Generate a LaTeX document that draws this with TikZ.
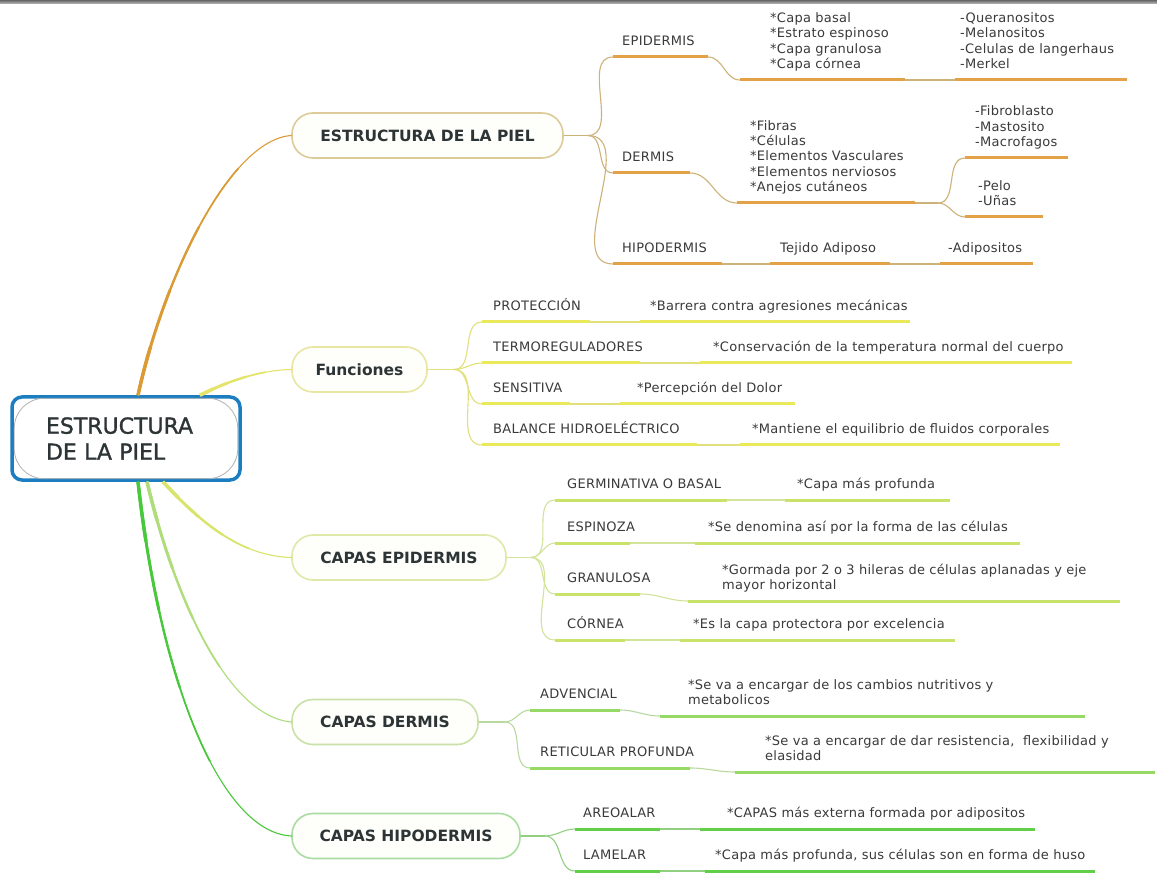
\documentclass[tikz,border=0pt]{standalone}
\usepackage{fontspec}
\setmainfont{DejaVu Sans}
\definecolor{cO}{HTML}{E3A248}
\definecolor{cOt}{HTML}{CDB27A}
\definecolor{cOr}{HTML}{DB9B34}
\definecolor{cObd}{HTML}{DCCB98}
\definecolor{cY}{HTML}{E9E95A}
\definecolor{cYt}{HTML}{E2E07A}
\definecolor{cYr}{HTML}{E4E46A}
\definecolor{cYbd}{HTML}{E8E6A0}
\definecolor{cA}{HTML}{C9E36A}
\definecolor{cAt}{HTML}{D2E39A}
\definecolor{cAr}{HTML}{D8E46A}
\definecolor{cAbd}{HTML}{DFE8A8}
\definecolor{cB}{HTML}{96D964}
\definecolor{cBt}{HTML}{B8D9A0}
\definecolor{cBr}{HTML}{AEDD7A}
\definecolor{cBbd}{HTML}{C9E1A9}
\definecolor{cC}{HTML}{62CF48}
\definecolor{cCt}{HTML}{90D080}
\definecolor{cCr}{HTML}{48C83A}
\definecolor{cCbd}{HTML}{A9DCA0}
\definecolor{rootblue}{HTML}{1C7DC0}
\definecolor{txt}{HTML}{3A3A3A}
\definecolor{ttl}{HTML}{2D3436}
\definecolor{nodefill}{HTML}{FEFEFA}
\newcommand\leaffont{\fontsize{13}{15.3}\selectfont\addfontfeature{LetterSpace=2}}
\newcommand\ml[1]{\begin{tabular}[b]{@{}l@{}}#1\end{tabular}}
\newcommand\tpc[7]{%
  \coordinate (#1s) at (#2,#4);
  \coordinate (#1e) at (#3,#4);
  \draw[ul#6] (#1s) -- (#1e);
  \node[lbl] (#1) at (#5,#4-11.5) {\ml{#7}};
}
\begin{document}
\begin{tikzpicture}[x=1pt,y=-1pt,
  lbl/.style={anchor=base west, inner sep=0pt, font=\leaffont, text=txt},
  ulO/.style={line width=3pt, draw=cO},
  ulY/.style={line width=3pt, draw=cY},
  ulA/.style={line width=3pt, draw=cA},
  ulB/.style={line width=3pt, draw=cB},
  ulC/.style={line width=3pt, draw=cC},
  thO/.style={line width=1.1pt, draw=cOt},
  thY/.style={line width=1.1pt, draw=cYt},
  thA/.style={line width=1.1pt, draw=cAt},
  thB/.style={line width=1.1pt, draw=cBt},
  thC/.style={line width=1.1pt, draw=cCt},
  br/.style={draw, line width=1.6pt, rounded corners=21pt, minimum height=45pt,
    fill=nodefill, font=\bfseries\fontsize{15.5}{18}\selectfont, text=ttl, inner xsep=0pt},
  rootbox/.style={draw=rootblue, line width=3.5pt, rounded corners=10pt, fill=white,
    minimum width=228pt, minimum height=83pt, align=left, text width=160pt, text=ttl,
    font=\fontsize{22}{26}\selectfont\addfontfeature{FakeBold=1.3}},
  taper/.style n args={5}{draw=#1, line width=1.1pt, line cap=round,
    postaction={draw=#1, line width=1.7pt, line cap=butt, dash pattern=on #2 off 3000pt},
    postaction={draw=#1, line width=2.3pt, line cap=butt, dash pattern=on #3 off 3000pt},
    postaction={draw=#1, line width=2.9pt, line cap=butt, dash pattern=on #4 off 3000pt},
    postaction={draw=#1, line width=3.5pt, line cap=butt, dash pattern=on #5 off 3000pt}}
]
\fill[white] (0,0) rectangle (1157,874);
\useasboundingbox (0,0) rectangle (1157,874);
\shade[top color=black!60, bottom color=black!25] (0,0) rectangle (1157,4);

% root and main branches
\node[rootbox] (root) at (126,438.5) {ESTRUCTURA\\DE LA PIEL};
\draw[gray!60, line width=0.8pt, rounded corners=30pt]
  ([shift={(4,3)}]root.north west) rectangle ([shift={(-4,-3)}]root.south east);

\node[br, draw=cObd, minimum width=271pt] (b1) at (427.5,135.5) {ESTRUCTURA DE LA PIEL};
\node[br, draw=cYbd, minimum width=135pt] (b2) at (359.5,369.5) {Funciones};
\node[br, draw=cAbd, minimum width=214pt] (b3) at (399,557.5) {CAPAS EPIDERMIS};
\node[br, draw=cBbd, minimum width=186pt] (b4) at (385,722) {CAPAS DERMIS};
\node[br, draw=cCbd, minimum width=228pt] (b5) at (406,836) {CAPAS HIPODERMIS};

\path[taper={cOr}{250pt}{180pt}{110pt}{50pt}] ([xshift=12pt]root.north) .. controls (163,280) and (229,140) .. (b1.west);
\path[taper={cYr}{70pt}{50pt}{30pt}{14pt}] ([xshift=74pt]root.north) .. controls (230,380) and (262,370) .. (b2.west);
\path[taper={cAr}{110pt}{80pt}{50pt}{22pt}] ([xshift=37pt]root.south) .. controls (200,522) and (240,556) .. (b3.west);
\path[taper={cBr}{200pt}{145pt}{90pt}{40pt}] ([xshift=21pt]root.south) .. controls (175,600) and (228,716) .. (b4.west);
\path[taper={cCr}{290pt}{210pt}{130pt}{60pt}] ([xshift=12pt]root.south) .. controls (160,680) and (220,832) .. (b5.west);

% ---------- ESTRUCTURA DE LA PIEL ----------
\tpc{eA}{613}{708}{57}{622}{O}{EPIDERMIS}
\tpc{eB}{740}{905}{80}{770}{O}{*Capa basal\\{*}Estrato espinoso\\{*}Capa granulosa\\{*}Capa córnea}
\tpc{eC}{955}{1127}{80}{960}{O}{-Queranositos\\-Melanositos\\-Celulas de langerhaus\\-Merkel}
\tpc{dA}{613}{690}{173}{622}{O}{DERMIS}
\tpc{dB}{737}{915}{203}{750}{O}{*Fibras\\{*}Células\\{*}Elementos Vasculares\\{*}Elementos nerviosos\\{*}Anejos cutáneos}
\tpc{dC}{965}{1068}{158}{975}{O}{-Fibroblasto\\-Mastosito\\-Macrofagos}
\tpc{dD}{965}{1043}{217}{978}{O}{-Pelo\\-Uñas}
\tpc{hA}{613}{722}{264}{622}{O}{HIPODERMIS}
\tpc{hB}{770}{890}{264}{780}{O}{Tejido Adiposo}
\tpc{hC}{940}{1033}{264}{948}{O}{-Adipositos}
\coordinate (j1) at ([xshift=24pt]b1.east);
\draw[thO] (b1.east) -- (j1);
\foreach \c in {eA,dA,hA} \draw[thO] (j1) to[out=0,in=180] (\c s);
\draw[thO] (eAe) to[out=0,in=180] (eBs);
\draw[thO] (eBe) -- (eCs);
\draw[thO] (dAe) to[out=0,in=180] (dBs);
\coordinate (jd) at ([xshift=23pt]dBe);
\draw[thO] (dBe) -- (jd);
\draw[thO] (jd) to[out=0,in=180] (dCs);
\draw[thO] (jd) to[out=0,in=180] (dDs);
\draw[thO] (hAe) -- (hBs);
\draw[thO] (hBe) -- (hCs);

% ---------- Funciones ----------
\tpc{pA}{482}{590}{322}{493}{Y}{PROTECCIÓN}
\tpc{pB}{640}{910}{322}{650}{Y}{*Barrera contra agresiones mecánicas}
\tpc{tA}{482}{640}{363}{493}{Y}{TERMOREGULADORES}
\tpc{tB}{700}{1072}{363}{713}{Y}{*Conservación de la temperatura normal del cuerpo}
\tpc{sA}{482}{570}{404}{493}{Y}{SENSITIVA}
\tpc{sB}{620}{795}{404}{637}{Y}{*Percepción del Dolor}
\tpc{bA}{482}{697}{445}{493}{Y}{BALANCE HIDROELÉCTRICO}
\tpc{bB}{740}{1060}{445}{752}{Y}{*Mantiene el equilibrio de fluidos corporales}
\coordinate (j2) at ([xshift=26pt]b2.east);
\draw[thY] (b2.east) -- (j2);
\foreach \c in {pA,tA,sA,bA} \draw[thY] (j2) to[out=0,in=180] (\c s);
\foreach \c in {p,t,s,b} \draw[thY] (\c Ae) -- (\c Bs);

% ---------- CAPAS EPIDERMIS ----------
\tpc{gA}{555}{727}{500}{567}{A}{GERMINATIVA O BASAL}
\tpc{gB}{785}{950}{500}{797}{A}{*Capa más profunda}
\tpc{spA}{555}{630}{543}{567}{A}{ESPINOZA}
\tpc{spB}{695}{1020}{543}{708}{A}{*Se denomina así por la forma de las células}
\tpc{grA}{555}{640}{594}{567}{A}{GRANULOSA}
\tpc{grB}{688}{1120}{601}{722}{A}{*Gormada por 2 o 3 hileras de células aplanadas y eje\\mayor horizontal}
\tpc{cA}{555}{625}{640}{567}{A}{CÓRNEA}
\tpc{cB}{680}{955}{640}{693}{A}{*Es la capa protectora por excelencia}
\coordinate (j3) at ([xshift=24pt]b3.east);
\draw[thA] (b3.east) -- (j3);
\foreach \c in {gA,spA,grA,cA} \draw[thA] (j3) to[out=0,in=180] (\c s);
\foreach \c in {g,sp,gr,c} \draw[thA] (\c Ae) to[out=0,in=180] (\c Bs);

% ---------- CAPAS DERMIS ----------
\tpc{aA}{530}{620}{710}{540}{B}{ADVENCIAL}
\tpc{aB}{660}{1085}{716}{688}{B}{*Se va a encargar de los cambios nutritivos y\\metabolicos}
\tpc{rA}{530}{690}{768}{540}{B}{RETICULAR PROFUNDA}
\tpc{rB}{735}{1155}{772}{765}{B}{*Se va a encargar de dar resistencia,\ \ flexibilidad y\\elasidad}
\coordinate (j4) at ([xshift=26pt]b4.east);
\draw[thB] (b4.east) -- (j4);
\foreach \c in {aA,rA} \draw[thB] (j4) to[out=0,in=180] (\c s);
\foreach \c in {a,r} \draw[thB] (\c Ae) to[out=0,in=180] (\c Bs);

% ---------- CAPAS HIPODERMIS ----------
\tpc{arA}{575}{660}{829}{583}{C}{AREOALAR}
\tpc{arB}{700}{1035}{829}{727}{C}{*CAPAS más externa formada por adipositos}
\tpc{lA}{575}{660}{871}{583}{C}{LAMELAR}
\tpc{lB}{705}{1095}{871}{715}{C}{*Capa más profunda, sus células son en forma de huso}
\coordinate (j5) at ([xshift=24pt]b5.east);
\draw[thC] (b5.east) -- (j5);
\foreach \c in {arA,lA} \draw[thC] (j5) to[out=0,in=180] (\c s);
\foreach \c in {ar,l} \draw[thC] (\c Ae) -- (\c Bs);
\end{tikzpicture}
\end{document}
